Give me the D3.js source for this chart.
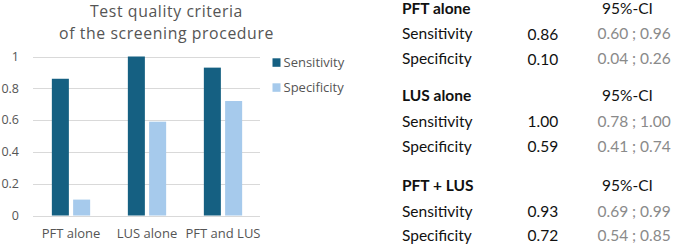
<!DOCTYPE html>
<html><head><meta charset="utf-8">
<script src="https://cdn.jsdelivr.net/npm/d3@7"></script>
<style>body{margin:0;background:#fff}svg{display:block}</style>
</head><body>
<svg id="c" width="673" height="245"></svg>
<script>
const categories = ["PFT alone", "LUS alone", "PFT and LUS"];
const seriesNames = ["Sensitivity", "Specificity"];
const sensitivity = [0.86, 1.00, 0.93];
const specificity = [0.10, 0.59, 0.72];
const yTicks = [0, 0.2, 0.4, 0.6, 0.8, 1];
const titleLines = ["Test quality criteria", "of the screening procedure"];
const tableGroups = ["PFT alone", "LUS alone", "PFT + LUS"];
const tableSens = ["0.86", "1.00", "0.93"];
const tableSpec = ["0.10", "0.59", "0.72"];
const ciSens = ["0.60 ; 0.96", "0.78 ; 1.00", "0.69 ; 0.99"];
const ciSpec = ["0.04 ; 0.26", "0.41 ; 0.74", "0.54 ; 0.85"];
const colors = ["#156082", "#A6CAEC"];

const svg = d3.select("#c");
const chartFont = "'Open Sans', sans-serif";
const tableFont = "Lato, 'Open Sans', sans-serif";

const x = d3.scaleBand().domain(categories).range([33, 261]).padding(0);
const xs = d3.scaleBand().domain(seriesNames).range([18.85, 57.15]).paddingInner(0.2);
const y = d3.scaleLinear().domain([0, 1]).range([215.5, 56.5]);

// title
svg.append("g").selectAll("text").data(titleLines).join("text")
  .attr("x", 166.5).attr("y", (d, i) => 16.8 + i * 22)
  .attr("text-anchor", "middle").attr("font-family", chartFont)
  .attr("font-size", 15.8).attr("letter-spacing", 0.6)
  .attr("fill", "#555").text(d => d);

// gridlines
svg.append("g").selectAll("line").data(yTicks).join("line")
  .attr("x1", 33).attr("x2", 260)
  .attr("y1", d => Math.round(y(d)) + 0.5).attr("y2", d => Math.round(y(d)) + 0.5)
  .attr("stroke", "#d9d9d9").attr("stroke-width", 1.2);

// y tick labels
svg.append("g").selectAll("text").data(yTicks).join("text")
  .attr("x", 19).attr("y", d => y(d)).attr("dy", "0.35em")
  .attr("text-anchor", "end").attr("font-family", chartFont)
  .attr("font-size", 12.5).attr("fill", "#555")
  .text(d => d3.format("")(d));

// bars
const data = categories.map((c, i) => ({c, vals: [sensitivity[i], specificity[i]]}));
const g = svg.append("g").selectAll("g").data(data).join("g")
  .attr("transform", d => `translate(${x(d.c)},0)`);
g.selectAll("rect").data(d => d.vals.map((v, j) => ({v, s: seriesNames[j], j}))).join("rect")
  .attr("x", d => xs(d.s)).attr("width", xs.bandwidth())
  .attr("y", d => y(d.v)).attr("height", d => y(0) - y(d.v))
  .attr("fill", d => colors[d.j]);

// x labels
svg.append("g").selectAll("text").data(categories).join("text")
  .attr("x", d => x(d) + x.bandwidth() / 2).attr("y", 237.5)
  .attr("text-anchor", "middle").attr("font-family", chartFont)
  .attr("font-size", 13).attr("fill", "#555").text(d => d);

// legend
const lg = svg.append("g").selectAll("g").data(seriesNames).join("g")
  .attr("transform", (d, i) => `translate(272.5,${58.3 + i * 25})`);
lg.append("rect").attr("width", 8).attr("height", 8.5).attr("fill", (d, i) => colors[i]);
lg.append("text").attr("x", 11).attr("y", 4.3).attr("dy", "0.35em")
  .attr("font-family", chartFont).attr("font-size", 13).attr("fill", "#555").text(d => d);

// table
const rowBase = [[13.5, 39.3, 64], [101, 126.7, 151.7], [190.7, 216.7, 240.7]];
const tg = svg.append("g").attr("font-family", tableFont).attr("font-size", 15.5);
tableGroups.forEach((name, i) => {
  const b = rowBase[i];
  tg.append("text").attr("x", 402).attr("y", b[0]).attr("font-weight", "bold").attr("fill", "#111").text(name);
  tg.append("text").attr("x", 602).attr("y", b[0]).attr("fill", "#111").text("95%-CI");
  [["Sensitivity", tableSens[i], ciSens[i]], ["Specificity", tableSpec[i], ciSpec[i]]].forEach((r, k) => {
    tg.append("text").attr("x", 402).attr("y", b[k + 1]).attr("fill", "#111").text(r[0]);
    tg.append("text").attr("x", 527.5).attr("y", b[k + 1] + 0.5).attr("fill", "#111").text(r[1]);
    tg.append("text").attr("x", 597.5).attr("y", b[k + 1]).attr("fill", "#8a8a8a").text(r[2]);
  });
});
</script>
</body></html>
